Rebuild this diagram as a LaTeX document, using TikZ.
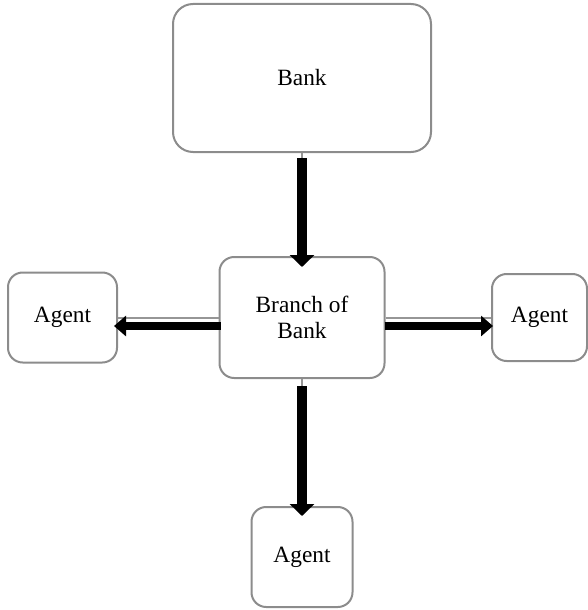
\documentclass[tikz,border=0pt]{standalone}
\usepackage{fontspec}
\setmainfont{Liberation Serif}
\usepackage{tikz}
\usetikzlibrary{arrows.meta,calc,positioning}
\definecolor{boxgrey}{RGB}{140,140,140}
\definecolor{linkgrey}{RGB}{150,150,150}

\begin{document}
\begin{tikzpicture}[x=0.75pt,y=-0.75pt,
  box/.style={draw=boxgrey,line width=1.5pt,rounded corners=11pt,fill=white,align=center,inner sep=0pt,font=\fontsize{17.5}{19.5}\selectfont},
  link/.style={draw=linkgrey,line width=1.5pt},
  fatarrow/.style={line width=7.5pt,-{Triangle[width=18pt,length=9pt]}},
  sidearrow/.style={line width=6.4pt,-{Triangle[width=15pt,length=9pt]}}]
\useasboundingbox (0,0) rectangle (588,610);
\node[box,rounded corners=15pt,minimum width=193.5pt,minimum height=111pt] (bank) at (302,78) {Bank};
\node[box,minimum width=123.75pt,minimum height=90.75pt] (branch) at (302,317.5) {Branch of\\Bank};
\node[box,minimum width=81.75pt,minimum height=67.5pt] (agentL) at (62.5,317.5) {Agent};
\node[box,minimum width=71.25pt,minimum height=65.25pt] (agentR) at (539.5,317.5) {Agent};
\node[box,minimum width=75.75pt,minimum height=75pt] (agentB) at (302,557) {Agent};
% grey links
\draw[link] (bank) -- (branch);
\draw[link] (branch) -- (agentL);
\draw[link] (branch) -- (agentR);
\draw[link] (branch) -- (agentB);
% black arrows
\draw[fatarrow] ($(bank.south)+(0,5)$) -- ($(branch.north)+(0,11)$);
\draw[fatarrow] ($(branch.south)+(0,7)$) -- ($(agentB.north)+(0,10)$);
\draw[sidearrow] ($(branch.west)+(2,8.5)$) -- ($(agentL.east)+(-4,8.5)$);
\draw[sidearrow] ($(branch.east)+(-1,8.5)$) -- ($(agentR.west)+(2,8.5)$);
\end{tikzpicture}
\end{document}
